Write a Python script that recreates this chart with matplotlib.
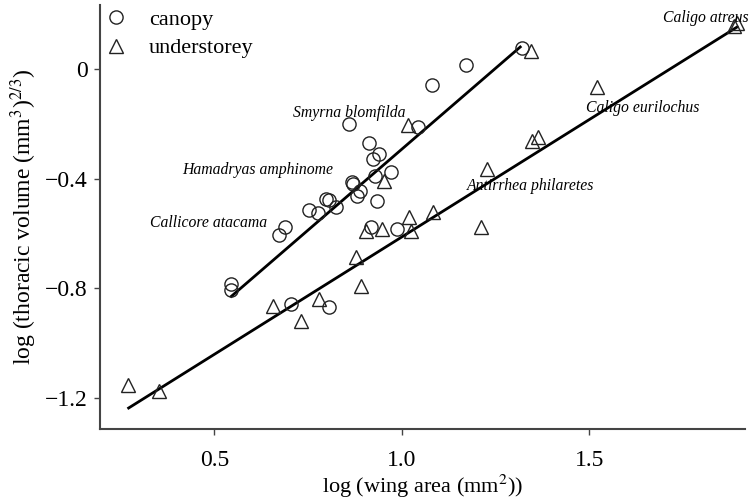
import numpy as np
import matplotlib
matplotlib.use('Agg')
import matplotlib.pyplot as plt

# log wing area / log thoracic volume, canopy species
canopy_x = [0.543, 0.545, 0.673, 0.687, 0.751, 0.777, 0.799, 0.807, 0.825, 0.868,
            0.871, 0.889, 0.881, 0.924, 0.940, 0.913, 0.929, 0.972, 0.935, 0.919,
            0.988, 0.860, 1.044, 1.081, 1.172, 1.321, 0.705, 0.807]
canopy_y = [-0.785, -0.807, -0.607, -0.575, -0.513, -0.524, -0.473, -0.476, -0.502, -0.411,
            -0.418, -0.444, -0.462, -0.327, -0.309, -0.269, -0.389, -0.375, -0.480, -0.575,
            -0.585, -0.200, -0.211, -0.058, 0.015, 0.076, -0.858, -0.869]

# understorey species
under_x = [0.268, 0.351, 0.657, 0.732, 0.780, 0.892, 0.879, 0.905, 0.948, 0.953,
           1.017, 1.020, 1.025, 1.084, 1.212, 1.228, 1.348, 1.364, 1.345, 1.521,
           1.887, 1.895]
under_y = [-1.153, -1.175, -0.865, -0.920, -0.840, -0.793, -0.684, -0.589, -0.585, -0.407,
           -0.204, -0.538, -0.589, -0.520, -0.578, -0.364, -0.262, -0.247, 0.065, -0.065,
           0.156, 0.167]

# regression lines (end points)
canopy_fit_x = [0.545, 1.316]
canopy_fit_y = [-0.829, 0.080]
under_fit_x = [0.271, 1.895]
under_fit_y = [-1.236, 0.153]

# species labels
species_names = ['Smyrna blomfilda', 'Hamadryas amphinome', 'Callicore atacama',
                 'Antirrhea philaretes', 'Caligo eurilochus', 'Caligo atreus']
species_x = [0.860, 0.615, 0.484, 1.343, 1.644, 1.812]
species_y = [-0.160, -0.367, -0.560, -0.425, -0.142, 0.185]

xticks = [0.5, 1.0, 1.5]
xtick_labels = ['0.5', '1.0', '1.5']
yticks = [0, -0.4, -0.8, -1.2]
ytick_labels = ['0', '\u22120.4', '\u22120.8', '\u22121.2']

plt.rcParams['font.family'] = ['Liberation Serif', 'DejaVu Serif']
plt.rcParams['mathtext.fontset'] = 'stix'

fig = plt.figure(figsize=(7.53, 4.99), dpi=100)
ax = fig.add_axes([0.133, 0.140, 0.857, 0.85])

ax.plot(canopy_fit_x, canopy_fit_y, color='black', lw=2)
ax.plot(under_fit_x, under_fit_y, color='black', lw=2)

ax.plot(canopy_x, canopy_y, 'o', ms=9.5, mfc='none', mec='#222222', mew=1.0, label='canopy')
ax.plot(under_x, under_y, '^', ms=9.5, mfc='none', mec='#222222', mew=1.0, label='understorey')

for name, sx, sy in zip(species_names, species_x, species_y):
    ax.text(sx, sy, name, style='italic', fontsize=11.3, ha='center', va='center')

ax.set_xlim(0.195, 1.917)
ax.set_ylim(-1.313, 0.233)
ax.set_xticks(xticks)
ax.set_xticklabels(xtick_labels, fontsize=17)
ax.set_yticks(yticks)
ax.set_yticklabels(ytick_labels, fontsize=17)
ax.tick_params(direction='out', length=4, width=1, color='#444444')
ax.tick_params(axis='x', pad=11)
ax.tick_params(axis='y', pad=5)

for s in ['top', 'right']:
    ax.spines[s].set_visible(False)
for s in ['left', 'bottom']:
    ax.spines[s].set_color('#444444')
    ax.spines[s].set_linewidth(1.5)

ax.set_xlabel('log (wing area (mm$^2$))', fontsize=16, labelpad=1)
ax.set_ylabel('log (thoracic volume (mm$^3$)$^{2/3}$)', fontsize=17, labelpad=4)

ax.legend(loc='upper left', frameon=False, fontsize=16, handletextpad=1.0,
          handlelength=1.0, borderpad=0.2, borderaxespad=0.0, labelspacing=0.35,
          bbox_to_anchor=(0.0, 1.0))

plt.savefig('out.png', dpi=100)
